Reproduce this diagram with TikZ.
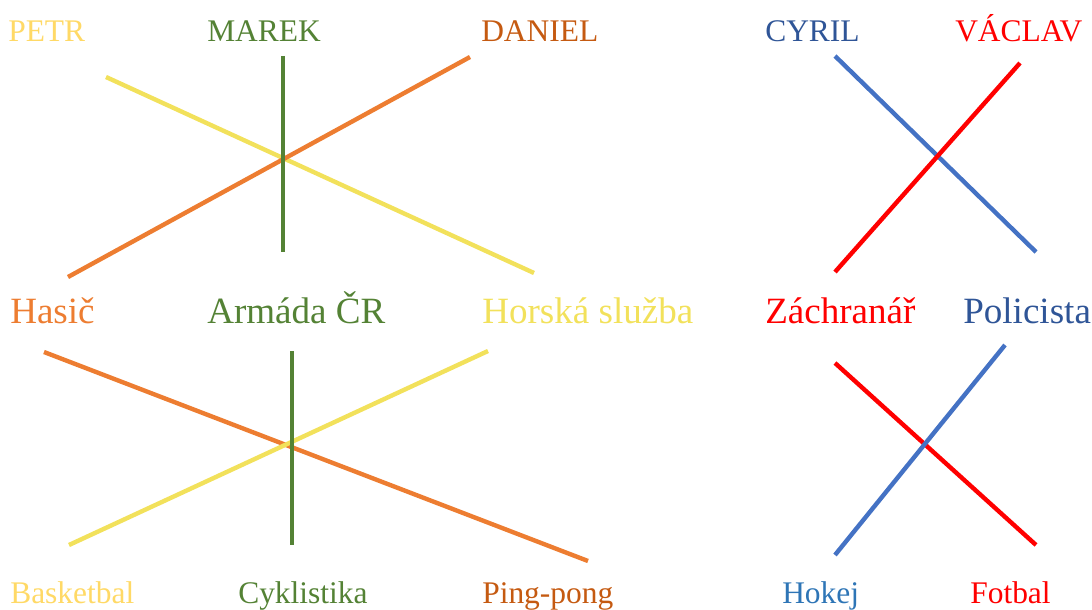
\documentclass[tikz,border=0pt]{standalone}
\usepackage{fontspec}
\setmainfont{Liberation Serif}
\definecolor{cgold}{HTML}{FFD966}
\definecolor{cyel}{HTML}{F2E15B}
\definecolor{cgreen}{HTML}{548235}
\definecolor{corange}{HTML}{ED7D31}
\definecolor{cdorange}{HTML}{C55A11}
\definecolor{cblue}{HTML}{4472C4}
\definecolor{cdblue}{HTML}{2F5597}
\definecolor{cmblue}{HTML}{2E75B6}
\definecolor{cred}{HTML}{FF0000}
\tikzset{
  lbl/.style={inner sep=0pt, anchor=base west, font=\fontsize{23.6}{28}\selectfont},
  biglbl/.style={inner sep=0pt, anchor=base west, font=\fontsize{27.8}{32}\selectfont},
  link/.style={line width=3.3pt}
}
\begin{document}
\begin{tikzpicture}[x=0.75pt,y=-0.75pt]
\useasboundingbox (0,0) rectangle (1092,610);
% row 1 labels
\node[lbl, text=cgold] (petr) at (8,42) {PETR};
\node[lbl, text=cgreen] (marek) at (207,42) {MAREK};
\node[lbl, text=cdorange] (daniel) at (481,42) {DANIEL};
\node[lbl, text=cdblue] (cyril) at (765,42) {CYRIL};
\node[lbl, text=cred] (vaclav) at (955,42) {VÁCLAV};
% row 2 labels
\node[biglbl, text=corange] (hasic) at (10,323) {Hasič};
\node[biglbl, text=cgreen] (armada) at (207,323) {Armáda ČR};
\node[biglbl, text=cyel] (horska) at (482,323) {Horská služba};
\node[biglbl, text=cred] (zachranar) at (765,323) {Záchranář};
\node[biglbl, text=cdblue] (policista) at (963,323) {Policista};
% row 3 labels
\node[lbl, text=cgold] (basketbal) at (10,603) {Basketbal};
\node[lbl, text=cgreen] (cyklistika) at (238,603) {Cyklistika};
\node[lbl, text=cdorange] (pingpong) at (482,603) {Ping-pong};
\node[lbl, text=cmblue] (hokej) at (782,603) {Hokej};
\node[lbl, text=cred] (fotbal) at (970,603) {Fotbal};
% top-left coordinates
\coordinate (y1a) at (106,77); \coordinate (y1b) at (534,273);
\coordinate (g1a) at (283,56); \coordinate (g1b) at (283,252);
\coordinate (o1a) at (470,57); \coordinate (o1b) at (68,277);
% top-right
\coordinate (b1a) at (835,56); \coordinate (b1b) at (1036,252);
\coordinate (r1a) at (1020,63); \coordinate (r1b) at (835,272);
% bottom-left
\coordinate (o2a) at (44,352); \coordinate (o2b) at (588,561);
\coordinate (g2a) at (292,351); \coordinate (g2b) at (292,545);
\coordinate (y2a) at (488,351); \coordinate (y2b) at (69,545);
% bottom-right
\coordinate (r2a) at (835,363); \coordinate (r2b) at (1036,545);
\coordinate (b2a) at (1005,345); \coordinate (b2b) at (835,555);
% lines
\draw[link, cyel] (y1a) -- (y1b);
\draw[link, corange] (o1a) -- (o1b);
\draw[link, cgreen] (g1a) -- (g1b);
\draw[link, cblue] (b1a) -- (b1b);
\draw[link, cred] (r1a) -- (r1b);
\draw[link, corange] (o2a) -- (o2b);
\draw[link, cyel] (y2a) -- (y2b);
\draw[link, cgreen] (g2a) -- (g2b);
\draw[link, cred] (r2a) -- (r2b);
\draw[link, cblue] (b2a) -- (b2b);
\end{tikzpicture}
\end{document}
